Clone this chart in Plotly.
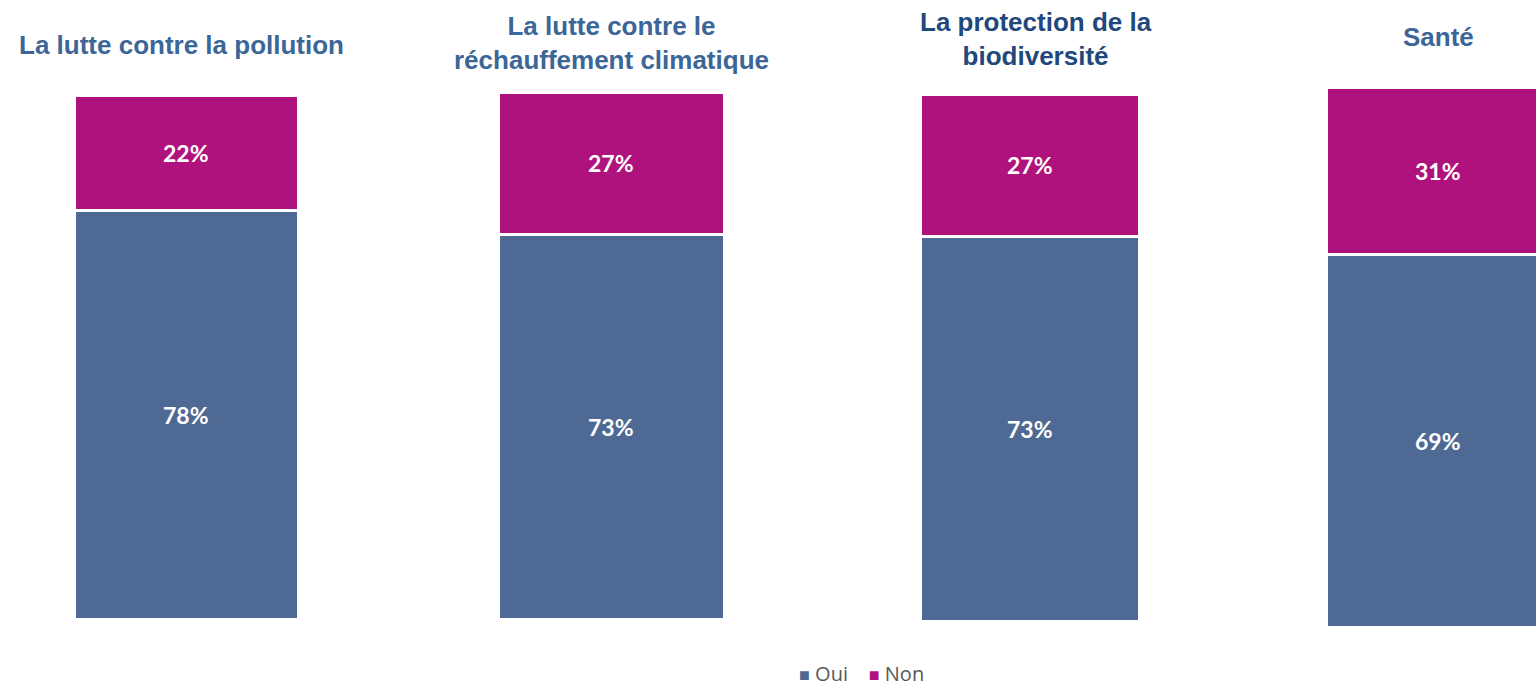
import plotly.graph_objects as go

# data
themes = ["La lutte contre la pollution",
          "La lutte contre le<br>réchauffement climatique",
          "La protection de la<br>biodiversité",
          "Santé"]
series_names = ['Oui', 'Non']
oui = [78, 73, 73, 69]
non = [22, 27, 27, 31]

oui_color = '#4E6A94'
non_color = '#B0127D'
title_colors = ['#3B6697', '#3B6697', '#1F487C', '#3B6697']

W, H = 1536, 689
# pixel boxes of each panel (left, right, top, bottom)
boxes = [(74, 298, 95, 619), (498, 724, 92, 619), (920, 1139, 94, 621), (1326, 1550, 87, 627)]
title_pos = [(181, 45), (611, 43), (1036, 39), (1438, 37)]

fig = go.Figure()
annotations = []
for i, (theme, o, n) in enumerate(zip(themes, oui, non)):
    k = '' if i == 0 else str(i + 1)
    left, right, top, bottom = boxes[i]
    fig.add_trace(go.Bar(x=[0], y=[o], name=series_names[0], marker=dict(color=oui_color, line=dict(color='white', width=3)),
                         width=1, xaxis='x' + k, yaxis='y' + k, showlegend=False))
    fig.add_trace(go.Bar(x=[0], y=[n], name=series_names[1], marker=dict(color=non_color, line=dict(color='white', width=3)),
                         width=1, xaxis='x' + k, yaxis='y' + k, showlegend=False))
    visible_right = min(right, W)
    xr = [-0.5, -0.5 + (visible_right - left) / (right - left)]
    fig.update_layout(**{
        'xaxis' + k: dict(domain=[left / W, visible_right / W], range=xr, visible=False, fixedrange=True),
        'yaxis' + k: dict(domain=[1 - bottom / H, 1 - top / H], range=[0, 100], visible=False, fixedrange=True),
    })
    for val, ymid in ((o, o / 2), (n, o + n / 2)):
        annotations.append(dict(x=0, y=ymid, xref='x' + k, yref='y' + k, text=f'<b>{val}%</b>', showarrow=False,
                                font=dict(family='Lato, Open Sans, sans-serif', size=23, color='white')))
    tx, ty = title_pos[i]
    annotations.append(dict(x=tx / W, y=1 - ty / H, xref='paper', yref='paper', text=f'<b>{theme}</b>',
                            showarrow=False, xanchor='center', yanchor='middle',
                            font=dict(family='Liberation Sans, Arial, sans-serif', size=26, color=title_colors[i])))

# legend drawn as text: plotly's own legend gets pushed up by automargin at the very bottom edge
legend_text = '&nbsp;&nbsp;&nbsp;&nbsp;'.join(
    f'<span style="color:{c};font-size:18px">■</span>&nbsp;{name}'
    for name, c in zip(series_names, [oui_color, non_color]))
annotations.append(dict(x=861 / W, y=1 - 673 / H, xref='paper', yref='paper', text=legend_text,
                        showarrow=False, xanchor='center', yanchor='middle',
                        font=dict(family='Open Sans, sans-serif', size=20, color='#595959')))

fig.update_layout(
    barmode='stack',
    width=W, height=H,
    margin=dict(l=0, r=0, t=0, b=0),
    plot_bgcolor='white', paper_bgcolor='white',
    annotations=annotations,
    showlegend=False,
)

# the page body has a default 8px margin, drop it so the figure fills the window
fig.write_html("out.html", config={'displayModeBar': False},
               post_script="document.body.style.margin='0';")
